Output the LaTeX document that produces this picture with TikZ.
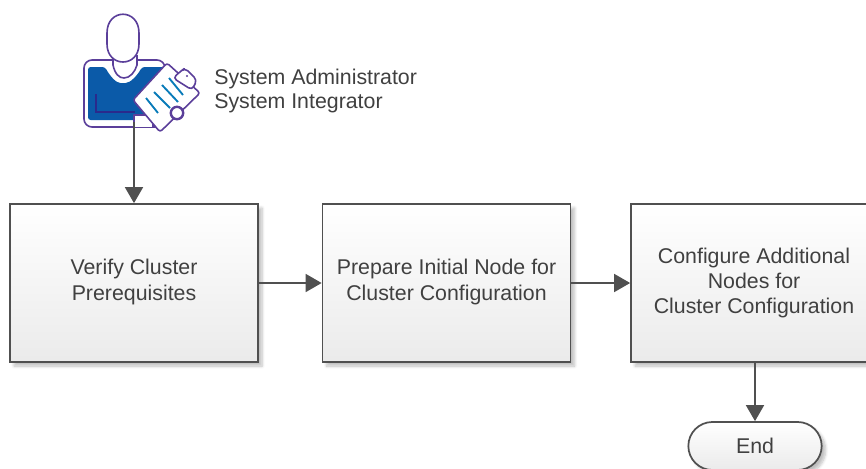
\documentclass[tikz,border=0pt]{standalone}
\usepackage{fontspec}
\setmainfont{Liberation Sans}
\usetikzlibrary{arrows.meta,shapes.misc,shadows.blur,positioning}
\definecolor{txt}{HTML}{404040}
\definecolor{edge}{HTML}{505050}
\definecolor{ipurple}{HTML}{5B3F9A}
\definecolor{iblue}{HTML}{0B5AA8}
\definecolor{idark}{HTML}{2A2A8C}
\newcommand{\liftline}{\rule[-4.9pt]{0pt}{1pt}}
\tikzset{
  x=0.75pt,y=-0.75pt,
  base/.style={draw=edge,line width=1.3pt,top color=white,bottom color=black!8,text=txt,align=center,
    font=\fontsize{16}{18.8}\selectfont,inner sep=0pt,
    blur shadow={shadow xshift=3pt,shadow yshift=-3pt,shadow blur steps=6,shadow opacity=25}},
  procbox/.style={base,minimum width=186pt,minimum height=118.5pt},
  term/.style={base,rounded rectangle,minimum width=100pt,minimum height=36pt},
  link/.style={draw=edge,line width=1.3pt,-{Triangle[length=12pt,width=13.5pt]}},
  ico/.style={draw=ipurple,line width=1.2pt,line join=round},
  rolelabel/.style={text=txt,font=\fontsize{16}{18.2}\selectfont,align=left,anchor=west,inner sep=0pt},
}
\begin{document}
\begin{tikzpicture}
\useasboundingbox (0,0) rectangle (866,468);
\clip (0,0) rectangle (866,468);
\node[procbox] (b1) at (134,283) {Verify Cluster\\Prerequisites\liftline};
\node[procbox] (b2) at (446.5,283) {Prepare Initial Node for\\Cluster Configuration\liftline};
\node[procbox,minimum width=184.5pt] (b3) at (754,283) {Configure Additional\\Nodes for\\Cluster Configuration};
\node[term] (e) at (755,446) {End};
\coordinate (actor) at (134,122);
\coordinate (b3out) at (755,362);
% actor icon
\draw[ico,fill=white,rounded corners=6pt] (84,80) -- (84,127) -- (165,127) -- (165,60) -- (84,60) -- cycle;
\fill[iblue,rounded corners=2pt] (88,67) -- (105,67) .. controls (110,76) and (116,83) .. (123,83) .. controls (130,83) and (137,76) .. (142,67) -- (165,67) -- (165,120) -- (88,120) -- cycle;
\draw[idark,line width=1.8pt] (96,94) -- (96,112) -- (135,112);
\draw[ico,fill=white] (113,55) -- (113,65) .. controls (115,74) and (119,78) .. (124,78) .. controls (130,78) and (135,72) .. (137,65) -- (137,55);
\draw[ico,fill=white] (107,33) .. controls (107,8) and (139,8) .. (139,33) -- (139,44) .. controls (139,68) and (107,68) .. (107,44) -- cycle;
\draw[ico,fill=white] (134,127) -- (134,115) -- (153,115) -- (153,127);
\draw[ico,fill=white,rounded corners=2pt] (167,63) -- (200,93) -- (160,132) -- (133,100) -- cycle;
\draw[ico,fill=white,rounded corners=3pt] (173,78) -- (181,71) -- (185,68) -- (197,80) -- (192,90) -- cycle;
\fill[ipurple] (187,76) circle[radius=1.2];
\foreach \a/\b/\c/\d in {146/98/158/113,154/92/170/108,162/85/178/102,169/78/183/95}
  \draw[iblue!80!cyan,line width=1.4pt] (\a,\b) -- (\c,\d);
\draw[ico,line width=1.8pt,fill=white] (177,113) circle[radius=6.2];
% labels
\node[rolelabel] (r) at (214,91) {System Administrator\\System Integrator};
% connectors
\draw[link] (actor) -- (b1.north);
\draw[link] (b1) -- (b2);
\draw[link] (b2) -- (b3);
\draw[link] (b3out) -- (e.north);
\end{tikzpicture}
\end{document}
